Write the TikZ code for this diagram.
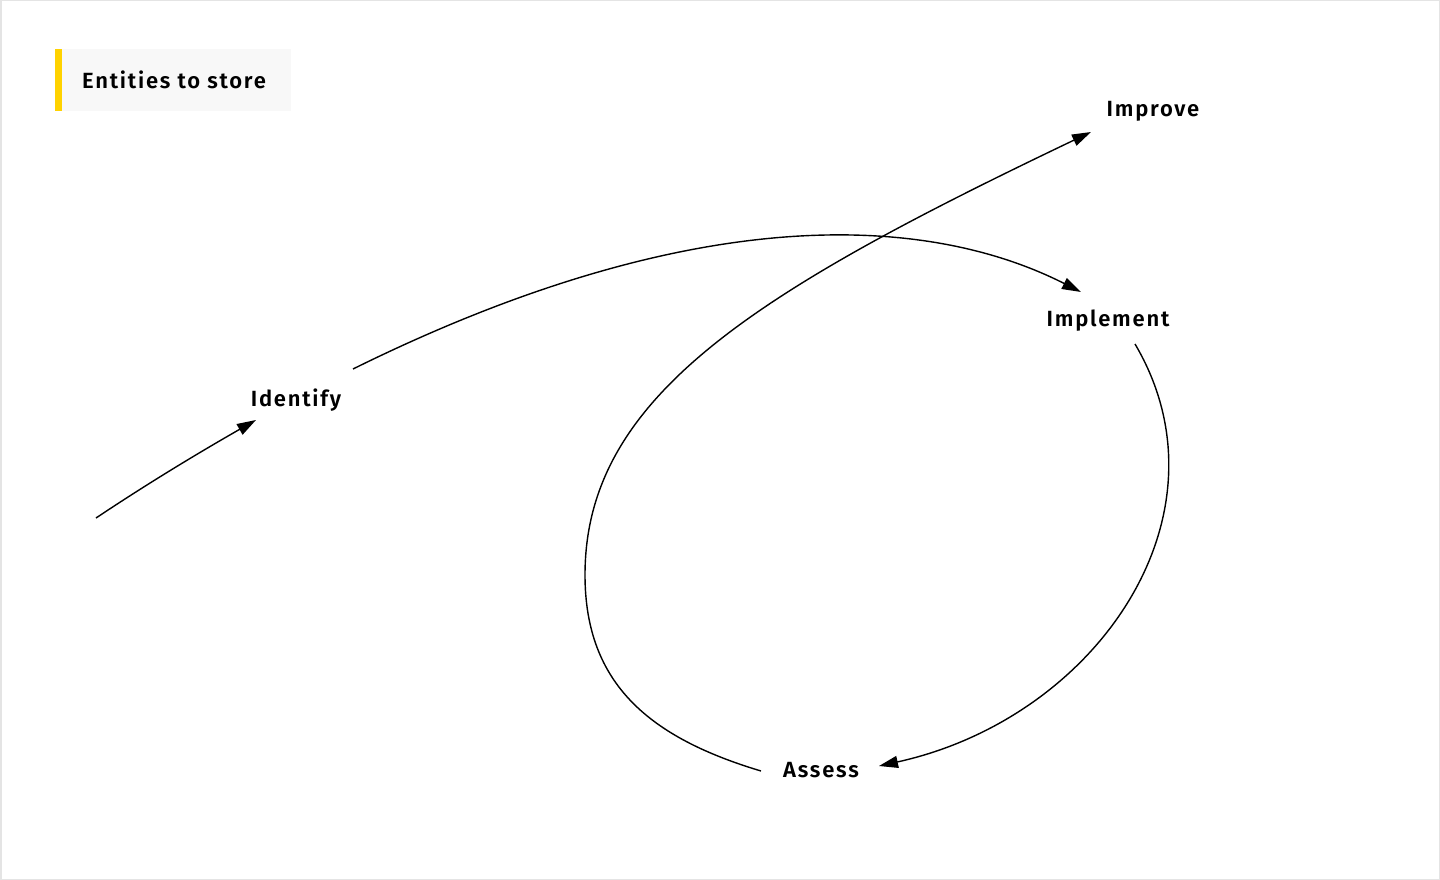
\documentclass[tikz,border=0pt]{standalone}
\usepackage{fontspec}
\setmainfont{Fira Sans SemiBold}[LetterSpace=8]
\usetikzlibrary{arrows.meta}
\definecolor{bargold}{HTML}{FFD200}
\definecolor{boxgray}{HTML}{F8F8F8}
\definecolor{framegray}{HTML}{E4E4E4}
\tikzset{
  lbl/.style={font=\fontsize{22}{25}\selectfont, text=black, inner sep=0pt},
  flow/.style={line width=1.4pt, draw=black},
  tip/.style={-{Triangle[length=19pt,width=12pt]}}
}
\begin{document}
\begin{tikzpicture}[x=1pt,y=-1pt]
\useasboundingbox (0,0) rectangle (1440,880);
\fill[white] (0,0) rectangle (1440,880);
\draw[framegray, line width=1.5pt] (0.75,0.75) rectangle (1439.25,879.25);
% legend box
\fill[boxgray] (55,49) rectangle (291,111);
\fill[bargold] (55,49) rectangle (62,111);
\node[lbl, anchor=base west] (title) at (82,89) {Entities to store};
% labels
\node[lbl, anchor=base] (identify) at (296,406) {Identify};
\node[lbl, anchor=base] (implement) at (1108,326) {Implement};
\node[lbl, anchor=base] (assess) at (821,777) {Assess};
\node[lbl, anchor=base] (improve) at (1153,117) {Improve};
% connector ends
\coordinate (s0) at (96,518);
\coordinate (e0) at (256,420);
\coordinate (s1) at (353,369);
\coordinate (e1) at (1081,292);
\coordinate (s2) at (1135,344);
\coordinate (e2) at (879,766);
\coordinate (s3) at (761,771);
\coordinate (m3) at (585,575);
\coordinate (e3) at (1091,132);
% connectors
\draw[flow, tip] (s0) .. controls (150,482) and (200,452) .. (e0);
\draw[flow, tip] (s1) .. controls (683,206) and (919,210) .. (e1);
\draw[flow, tip] (s2) .. controls (1236,515) and (1097,718) .. (e2);
\draw[flow, tip] (s3) .. controls (651,738) and (585,685) .. (m3)
   .. controls (585,396) and (756,292) .. (e3);
\end{tikzpicture}
\end{document}
